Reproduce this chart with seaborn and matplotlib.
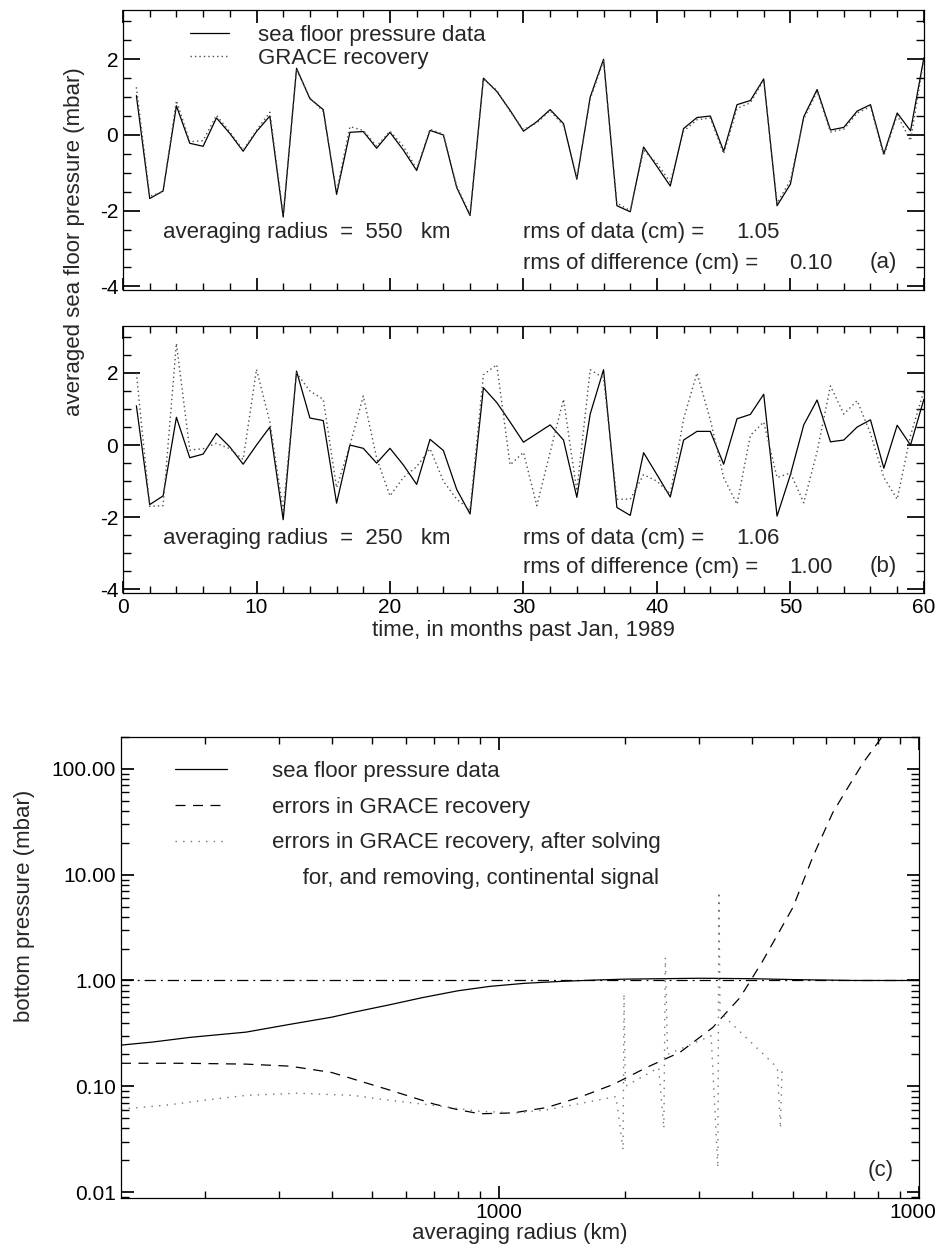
import matplotlib
matplotlib.use("Agg")
import matplotlib.pyplot as plt
import matplotlib.ticker as mticker
from matplotlib.lines import Line2D
import seaborn as sns

# monthly series, months past Jan 1989
months = list(range(1, 61))

a_data = [1.04, -1.68, -1.48, 0.77, -0.22, -0.30, 0.45, 0.04, -0.43, 0.09,
          0.50, -2.17, 1.76, 0.96, 0.67, -1.57, 0.07, 0.09, -0.35, 0.07,
          -0.40, -0.94, 0.12, 0.00, -1.39, -2.13, 1.50, 1.15, 0.65, 0.10,
          0.35, 0.67, 0.30, -1.17, 1.00, 2.00, -1.87, -2.03, -0.32, -0.83,
          -1.35, 0.17, 0.46, 0.50, -0.43, 0.80, 0.91, 1.48, -1.87, -1.30,
          0.48, 1.20, 0.13, 0.20, 0.63, 0.80, -0.50, 0.58, 0.11, 2.04]
a_grace = [1.26, -1.62, -1.50, 0.91, -0.18, -0.15, 0.52, 0.08, -0.40, 0.12,
           0.60, -2.10, 1.72, 0.98, 0.62, -1.50, 0.22, 0.12, -0.30, 0.10,
           -0.30, -0.90, 0.15, 0.02, -1.35, -2.10, 1.48, 1.18, 0.62, 0.14,
           0.32, 0.64, 0.25, -1.12, 0.95, 1.96, -1.80, -2.00, -0.40, -0.75,
           -1.25, 0.10, 0.40, 0.45, -0.50, 0.70, 0.85, 1.45, -1.80, -1.20,
           0.42, 1.15, 0.08, 0.15, 0.58, 0.75, -0.55, 0.52, -0.15, 2.00]

b_data = [1.09, -1.65, -1.41, 0.77, -0.35, -0.25, 0.32, -0.05, -0.53, 0.00,
          0.50, -2.07, 2.05, 0.75, 0.68, -1.61, 0.00, -0.09, -0.50, -0.09,
          -0.55, -1.09, 0.16, -0.15, -1.23, -1.91, 1.59, 1.18, 0.64, 0.08,
          0.32, 0.56, 0.14, -1.45, 0.86, 2.09, -1.73, -1.95, -0.21, -0.82,
          -1.44, 0.14, 0.38, 0.38, -0.53, 0.73, 0.85, 1.41, -1.97, -0.82,
          0.56, 1.25, 0.09, 0.14, 0.50, 0.70, -0.64, 0.55, 0.00, 1.27]
b_grace = [2.00, -1.70, -1.68, 2.82, -0.14, -0.10, 0.05, -0.10, -0.40, 2.10,
           0.64, -1.80, 2.00, 1.50, 1.27, -1.18, 0.00, 1.36, -0.36, -1.41,
           -0.90, -0.60, -0.10, -1.00, -1.50, -1.80, 1.95, 2.23, -0.55, -0.20,
           -1.68, -0.20, 1.27, -1.27, 2.09, 1.86, -1.50, -1.50, -0.82, -1.00,
           -1.36, 0.73, 2.00, 0.70, -0.90, -1.64, 0.27, 0.64, -0.90, -0.77,
           -1.60, -0.18, 1.64, 0.86, 1.23, 0.32, -0.90, -1.50, 0.27, 1.50]

# panel (c): bottom pressure vs averaging radius
sfp_radius = [126, 150, 184, 220, 250, 318, 400, 450, 550, 659, 800, 952,
              1150, 1400, 1700, 2000, 3000, 4000, 5000, 7000, 10000]
sfp_value = [0.245, 0.262, 0.29, 0.31, 0.325, 0.385, 0.45, 0.50, 0.59, 0.69,
             0.80, 0.88, 0.94, 0.98, 1.01, 1.03, 1.05, 1.04, 1.02, 1.00, 1.00]

err_radius = [126, 180, 250, 318, 400, 550, 700, 800, 901, 1080, 1300, 1560,
              1870, 2250, 2700, 3230, 3750, 4250, 5010, 5590, 6230, 6720,
              7360, 8160]
err_value = [0.165, 0.165, 0.162, 0.155, 0.135, 0.092, 0.068, 0.060, 0.055,
             0.056, 0.063, 0.079, 0.104, 0.151, 0.21, 0.36, 0.69, 1.54, 4.9,
             14.8, 38.4, 63.4, 114, 200]

cont_radius = [126, 160, 200, 250, 330, 450, 530, 700, 900, 1100, 1300, 1600,
               1900, 1975, 1985, 2000, 2400, 2470, 2490, 2520, 3200, 3320,
               3340, 3360, 4600, 4680, 4720]
cont_value = [0.061, 0.066, 0.074, 0.082, 0.086, 0.082, 0.075, 0.066, 0.058,
              0.056, 0.060, 0.070, 0.080, 0.025, 0.75, 0.10, 0.15, 0.04, 1.65,
              0.20, 0.30, 0.017, 6.9, 0.50, 0.15, 0.04, 0.15]

ref_level = 1.0

labels_ab = ["sea floor pressure data", "GRACE recovery"]
labels_c = ["sea floor pressure data", "errors in GRACE recovery",
            "errors in GRACE recovery, after solving",
            "     for, and removing, continental signal"]

panel_text = {
    "a": ("550", "1.05", "0.10"),
    "b": ("250", "1.06", "1.00"),
}

sns.set_theme(style="ticks")
plt.rcParams['font.family'] = ['Liberation Sans', 'DejaVu Sans']
plt.rcParams.update({
    "axes.unicode_minus": False,
    "axes.linewidth": 0.9,
    "axes.edgecolor": "black",
    "xtick.direction": "in",
    "ytick.direction": "in",
    "xtick.top": True,
    "ytick.right": True,
    "xtick.color": "black",
    "ytick.color": "black",
    "xtick.labelsize": 15,
    "ytick.labelsize": 15,
    "xtick.major.size": 9,
    "ytick.major.size": 12,
    "xtick.minor.size": 5,
    "ytick.minor.size": 6,
    "xtick.minor.visible": True,
    "ytick.minor.visible": True,
})

DOT = (0, (1, 2.2))
SPARSE_DOT = (0, (1, 4.5))
DASH = (0, (8, 6))
DASHDOT = (0, (9, 4, 1.5, 4))
FS = 16

fig = plt.figure(figsize=(9.37, 12.56), dpi=100)
ax_a = fig.add_axes([0.1313, 0.769, 0.8547, 0.223])
ax_b = fig.add_axes([0.1313, 0.5279, 0.8547, 0.2125])
ax_c = fig.add_axes([0.1291, 0.0462, 0.8517, 0.367])


def draw_series(ax, data, grace, key):
    sns.lineplot(x=months, y=data, ax=ax, color="black", lw=0.9,
                 estimator=None, sort=False, label=labels_ab[0])
    sns.lineplot(x=months, y=grace, ax=ax, color="0.3", lw=1.0,
                 linestyle=DOT, estimator=None, sort=False, label=labels_ab[1])
    ax.set_xlim(0, 60)
    ax.set_ylim(-4.1, 3.3)
    ax.set_yticks([-4, -2, 0, 2])
    ax.yaxis.set_minor_locator(mticker.MultipleLocator(0.5))
    ax.set_xticks([0, 10, 20, 30, 40, 50, 60])
    ax.xaxis.set_minor_locator(mticker.MultipleLocator(2))
    ax.set_xlabel("")
    ax.set_ylabel("")
    radius, rms_data, rms_diff = panel_text[key]
    ax.text(0.05, 0.204, f"averaging radius  =  {radius}   km", fontsize=FS,
            transform=ax.transAxes, va="center")
    ax.text(0.4994, 0.204, "rms of data (cm) =", fontsize=FS,
            transform=ax.transAxes, va="center")
    ax.text(0.766, 0.204, rms_data, fontsize=FS, transform=ax.transAxes, va="center")
    ax.text(0.4994, 0.096, "rms of difference (cm) =", fontsize=FS,
            transform=ax.transAxes, va="center")
    ax.text(0.832, 0.096, rms_diff, fontsize=FS, transform=ax.transAxes, va="center")
    ax.text(0.932, 0.10, f"({key})", fontsize=FS, transform=ax.transAxes, va="center")


draw_series(ax_a, a_data, a_grace, "a")
draw_series(ax_b, b_data, b_grace, "b")
ax_a.tick_params(labelbottom=False)
ax_a.legend(loc="upper left", bbox_to_anchor=(0.0836, 0.948), frameon=False,
            fontsize=FS, handlelength=1.75, handletextpad=1.3, labelspacing=0.1,
            borderpad=0, borderaxespad=0)
ax_b.get_legend().remove()
ax_b.set_xlabel("time, in months past Jan, 1989", fontsize=FS, labelpad=2)
fig.text(0.08, 0.808, "averaged sea floor pressure (mbar)", rotation=90,
         fontsize=FS, ha="center", va="center")

# panel (c)
ax_c.set_xscale("log")
ax_c.set_yscale("log")
ax_c.axhline(ref_level, color="black", lw=0.9, linestyle=DASHDOT)
sns.lineplot(x=sfp_radius, y=sfp_value, ax=ax_c, color="black", lw=0.9,
             estimator=None, sort=False)
sns.lineplot(x=err_radius, y=err_value, ax=ax_c, color="black", lw=0.9,
             linestyle=DASH, estimator=None, sort=False)
sns.lineplot(x=cont_radius, y=cont_value, ax=ax_c, color="0.45", lw=1.0,
             linestyle=SPARSE_DOT, estimator=None, sort=False)
ax_c.set_xlim(126, 10000)
ax_c.set_ylim(0.0088, 200)
ax_c.set_xticks([1000, 10000])
ax_c.xaxis.set_major_formatter(mticker.FormatStrFormatter("%d"))
ax_c.xaxis.set_minor_formatter(mticker.NullFormatter())
ax_c.set_yticks([0.01, 0.1, 1, 10, 100])
ax_c.yaxis.set_major_formatter(mticker.FormatStrFormatter("%.2f"))
ax_c.yaxis.set_minor_formatter(mticker.NullFormatter())
ax_c.tick_params(axis="y", which="major", length=9)
ax_c.set_xlabel("averaging radius (km)", fontsize=FS, labelpad=1)
ax_c.set_ylabel("")
fig.text(0.026, 0.279, "bottom pressure (mbar)", rotation=90, fontsize=FS,
         ha="center", va="center")
ax_c.text(0.935, 0.06, "(c)", fontsize=FS, transform=ax_c.transAxes, va="center")

handles_c = [
    Line2D([], [], color="black", lw=0.9),
    Line2D([], [], color="black", lw=0.9, linestyle=DASH),
    Line2D([], [], color="0.45", lw=1.0, linestyle=SPARSE_DOT),
    Line2D([], [], color="none"),
]
ax_c.legend(handles_c, labels_c, loc="upper left", bbox_to_anchor=(0.0677, 0.948),
            frameon=False, fontsize=FS, handlelength=2.35, handletextpad=2.0,
            labelspacing=0.66, borderpad=0, borderaxespad=0)

fig.savefig("out.png", dpi=100)
